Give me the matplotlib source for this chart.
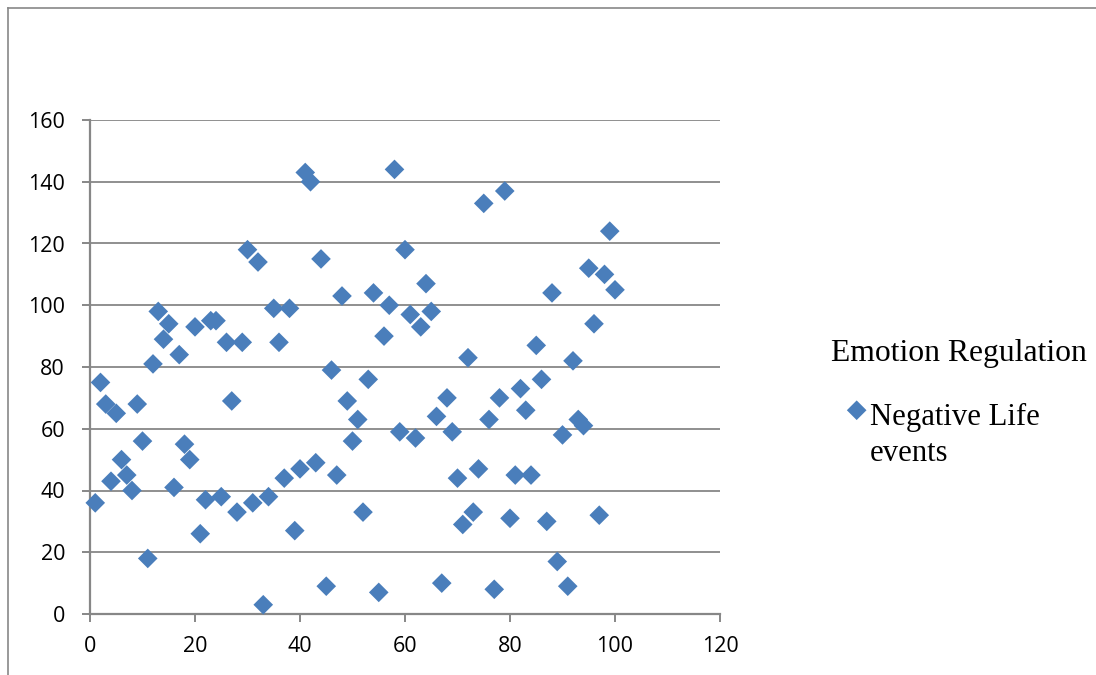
"""Scatter of negative life events vs emotion regulation (Excel-style chart)."""
import matplotlib
matplotlib.use('Agg')
import matplotlib.pyplot as plt
from matplotlib.lines import Line2D

# data, x = 1..100
emotion_regulation = list(range(1, 101))
negative_life_events = [
    36, 75, 68, 43, 65, 50, 45, 40, 68, 56,
    18, 81, 98, 89, 94, 41, 84, 55, 50, 93,
    26, 37, 95, 95, 38, 88, 69, 33, 88, 118,
    36, 114, 3, 38, 99, 88, 44, 99, 27, 47,
    143, 140, 49, 115, 9, 79, 45, 103, 69, 56,
    63, 33, 76, 104, 7, 90, 100, 144, 59, 118,
    97, 57, 93, 107, 98, 64, 10, 70, 59, 44,
    29, 83, 33, 47, 133, 63, 8, 70, 137, 31,
    45, 73, 66, 45, 87, 76, 30, 104, 17, 58,
    9, 82, 63, 61, 112, 94, 32, 110, 124, 105,
]
x_ticks = [0, 20, 40, 60, 80, 100, 120]
y_ticks = [0, 20, 40, 60, 80, 100, 120, 140, 160]
legend_title = 'Emotion Regulation'
series_label = 'Negative Life\nevents'

grey = '#878787'
blue = '#4a7ebb'

fig = plt.figure(figsize=(10.96, 6.75), dpi=100)
W, H = 1096.0, 675.0

# outer chart border (left and top edges visible)
fig.add_artist(Line2D([8 / W, 8 / W], [-0.01, 1 - 8 / H], transform=fig.transFigure,
                      color=grey, lw=1.2))
fig.add_artist(Line2D([8 / W, 1.01], [1 - 8 / H, 1 - 8 / H], transform=fig.transFigure,
                      color=grey, lw=1.2))

ax = fig.add_axes([90 / W, 1 - 614 / H, (720 - 90) / W, (614 - 120) / H])
ax.scatter(emotion_regulation, negative_life_events, marker='D', s=100,
           color=blue, edgecolors='none', label=series_label, zorder=3, clip_on=False)

ax.set_xlim(0, 120)
ax.set_ylim(0, 160)
ax.set_xticks(x_ticks)
ax.set_yticks(y_ticks)
ax.yaxis.grid(True, color=grey, lw=1.3)
ax.set_axisbelow(True)

for side in ['top', 'right']:
    ax.spines[side].set_visible(False)
for side in ['left', 'bottom']:
    ax.spines[side].set_color(grey)
    ax.spines[side].set_linewidth(1.6)

ax.tick_params(axis='both', colors=grey, width=1.4, length=6, direction='out',
               labelcolor='black', labelsize=15.5)
ax.tick_params(axis='x', pad=10)
ax.tick_params(axis='y', pad=12)
for lbl in ax.get_xticklabels() + ax.get_yticklabels():
    lbl.set_fontfamily('Open Sans')

# marker sits next to the first line of the label, like Excel does
leg = ax.legend(loc='upper left', bbox_to_anchor=(816 / W, 1 - 324 / H),
                bbox_transform=fig.transFigure, frameon=False, borderpad=0,
                title=legend_title, alignment='left',
                prop={'family': 'Liberation Serif', 'size': 22.1},
                title_fontproperties={'family': 'Liberation Serif', 'size': 22.8},
                handlelength=1.65, handletextpad=-0.4, labelspacing=1.13,
                scatterpoints=1, scatteryoffsets=[1.68])
for t in leg.get_texts():
    t.set_linespacing(1.3)

fig.savefig('out.png', dpi=100)
